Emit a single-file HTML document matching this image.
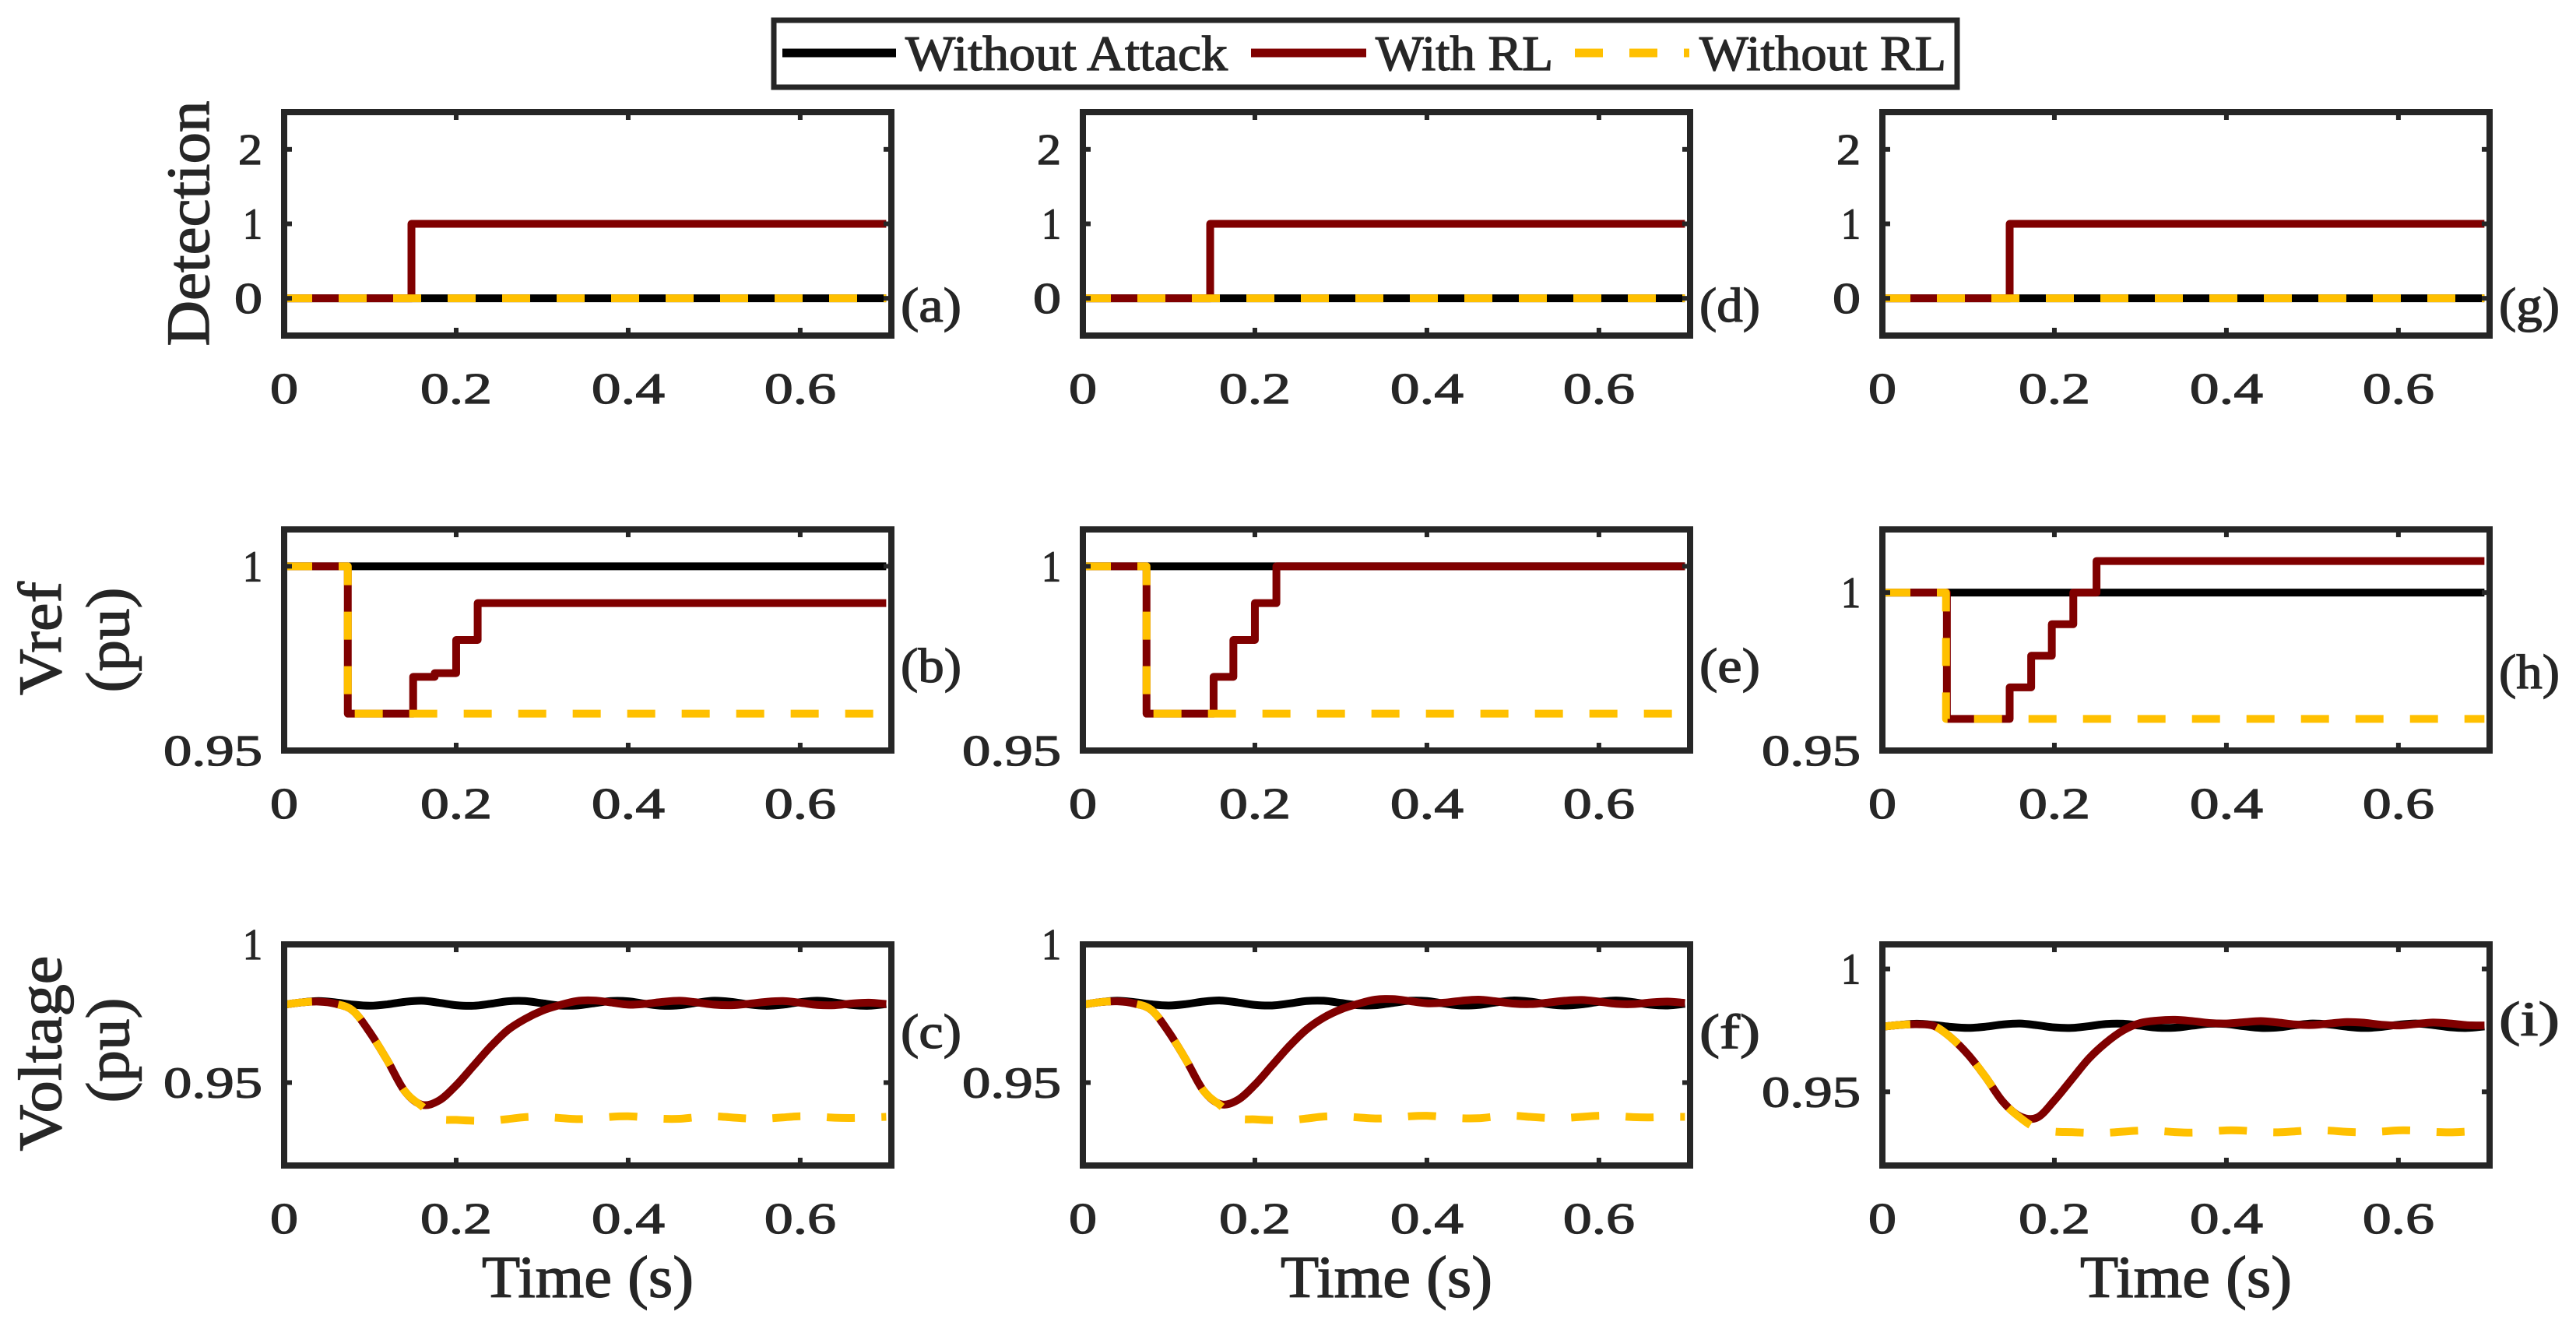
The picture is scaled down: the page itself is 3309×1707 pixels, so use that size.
<!DOCTYPE html>
<html><head><meta charset="utf-8"><style>
html,body{margin:0;padding:0;background:#fff}
svg{display:block}
text{font-family:"Liberation Serif",serif;fill:#262626}
.tk{stroke:#262626;stroke-width:1.3}
</style></head><body>
<svg id="fig" width="3309" height="1707" viewBox="0 0 3309 1707" xmlns="http://www.w3.org/2000/svg">
<g>
<rect x="994" y="26" width="1520" height="86" fill="#fff" stroke="#262626" stroke-width="7"/>
<line x1="1005" y1="68" x2="1151" y2="68" stroke="#000" stroke-width="11"/>
<text class="tk" x="1163" y="90" font-size="64" textLength="414" lengthAdjust="spacingAndGlyphs">Without Attack</text>
<line x1="1607" y1="68" x2="1755" y2="68" stroke="#800000" stroke-width="11"/>
<text class="tk" x="1767" y="90" font-size="64" textLength="228" lengthAdjust="spacingAndGlyphs">With RL</text>
<line x1="2023" y1="68" x2="2170" y2="68" stroke="#FFC000" stroke-width="11" stroke-dasharray="36 34"/>
<text class="tk" x="2183" y="90" font-size="64" textLength="317" lengthAdjust="spacingAndGlyphs">Without RL</text>
</g>
</svg>
<script>
// ---------- data ----------
const tV = [0,0.02,0.04,0.06,0.08,0.10,0.12,0.14,0.16,0.18,0.20,0.22,0.24,0.26,0.28,0.30,0.32,0.34,0.36,0.38,0.40,0.42,0.44,0.46,0.48,0.50,0.52,0.54,0.56,0.58,0.60,0.62,0.64,0.66,0.68,0.70];
const cBlack = [0.9782,0.9790,0.9795,0.9790,0.9782,0.9778,0.9783,0.9792,0.9796,0.9789,0.9780,0.9778,0.9785,0.9794,0.9795,0.9787,0.9779,0.9779,0.9787,0.9795,0.9794,0.9785,0.9778,0.9780,0.9789,0.9796,0.9792,0.9783,0.9778,0.9782,0.9791,0.9796,0.9790,0.9781,0.9778,0.9784];
const cRed = [0.9782,0.9790,0.9793,0.9785,0.9760,0.9680,0.9580,0.9470,0.9420,0.9435,0.9490,0.9560,0.9630,0.9690,0.9730,0.9760,0.9780,0.9795,0.9797,0.9790,0.9782,0.9785,0.9792,0.9796,0.9790,0.9782,0.9780,0.9785,0.9792,0.9795,0.9789,0.9781,0.9780,0.9786,0.9789,0.9784];
const cYellow = [0.9782,0.9790,0.9793,0.9785,0.9760,0.9680,0.9580,0.9470,0.9415,0.9370,0.9365,0.9362,0.9362,0.9368,0.9375,0.9376,0.9372,0.9368,0.9370,0.9376,0.9378,0.9374,0.9369,0.9369,0.9375,0.9378,0.9374,0.9370,0.9370,0.9374,0.9378,0.9377,0.9373,0.9372,0.9374,0.9376];
const fBlack = [0.9782,0.9791,0.9796,0.9791,0.9783,0.9779,0.9784,0.9793,0.9797,0.9790,0.9781,0.9779,0.9786,0.9795,0.9796,0.9788,0.9780,0.9780,0.9788,0.9796,0.9795,0.9786,0.9779,0.9781,0.9790,0.9797,0.9793,0.9784,0.9779,0.9783,0.9792,0.9797,0.9791,0.9782,0.9779,0.9785];
const fRed = [0.9782,0.9791,0.9794,0.9786,0.9762,0.9682,0.9582,0.9472,0.9422,0.9437,0.9492,0.9562,0.9632,0.9692,0.9735,0.9765,0.9785,0.9800,0.9802,0.9795,0.9787,0.9789,0.9796,0.9800,0.9794,0.9786,0.9784,0.9789,0.9796,0.9799,0.9793,0.9785,0.9784,0.9790,0.9793,0.9788];
const fYellow = [0.9782,0.9791,0.9794,0.9786,0.9762,0.9682,0.9582,0.9472,0.9417,0.9372,0.9367,0.9364,0.9364,0.9370,0.9377,0.9378,0.9374,0.9370,0.9372,0.9378,0.9380,0.9376,0.9371,0.9371,0.9377,0.9380,0.9376,0.9372,0.9372,0.9376,0.9380,0.9379,0.9375,0.9374,0.9376,0.9376];
const iBlack = [0.9765,0.9772,0.9777,0.9772,0.9764,0.9760,0.9765,0.9774,0.9778,0.9771,0.9762,0.9760,0.9767,0.9776,0.9777,0.9769,0.9761,0.9761,0.9769,0.9777,0.9776,0.9767,0.9760,0.9762,0.9771,0.9778,0.9774,0.9765,0.9760,0.9764,0.9773,0.9778,0.9772,0.9763,0.9760,0.9766];
const iRed = [0.9765,0.9772,0.9775,0.9768,0.9720,0.9650,0.9560,0.9460,0.9400,0.9395,0.9465,0.9550,0.9635,0.9700,0.9750,0.9780,0.9790,0.9793,0.9788,0.9780,0.9778,0.9783,0.9788,0.9782,0.9774,0.9772,0.9778,0.9784,0.9781,0.9773,0.9770,0.9776,0.9782,0.9778,0.9771,0.9770];
const iYellow = [0.9765,0.9772,0.9775,0.9768,0.9720,0.9650,0.9560,0.9460,0.9395,0.9350,0.9338,0.9336,0.9333,0.9333,0.9338,0.9342,0.9341,0.9336,0.9334,0.9338,0.9343,0.9342,0.9337,0.9335,0.9339,0.9344,0.9342,0.9337,0.9335,0.9338,0.9343,0.9342,0.9337,0.9335,0.9338,0.9341];

const detT = [0,0.148,0.70];
const detRed = [0,1,1];
const detZero = [0,0,0];

const bT = [0,0.074,0.150,0.175,0.200,0.225,0.70];
const bRed = [1,0.96,0.97,0.971,0.98,0.99,0.99];
const eT = [0,0.074,0.152,0.175,0.200,0.225,0.70];
const eRed = [1,0.96,0.97,0.98,0.99,1.0,1.0];
const hT = [0,0.075,0.148,0.173,0.197,0.222,0.249,0.70];
const hRed = [1,0.96,0.97,0.98,0.99,1.0,1.01,1.01];
const vrefYT = [0,0.074,0.70];
const vrefYellow = [1,0.96,0.96];
const vrefBT = [0,0.70];
const vrefBlack = [1,1];

const xTicks = [0,0.2,0.4,0.6];
const xTickLabels = ["0","0.2","0.4","0.6"];
const detTicks = [0,1,2];
const detTickLabels = ["0","1","2"];
const puTicks = [0.95,1];
const puTickLabels = ["0.95","1"];

// ---------- layout ----------
const NS = "http://www.w3.org/2000/svg";
const svg = document.getElementById('fig');
const colLeft = [365,1391,2418];
const W = 780;
const rows = [{top:144,bot:431},{top:680,bot:964},{top:1213,bot:1497}];
const XMAX = 0.706;
const INK = "#262626";
const labW = {"0":36,"0.2":92,"0.4":94,"0.6":92,"1":25,"2":31,"0.95":127};

function mk(tag, attrs, parent){
  const e = document.createElementNS(NS, tag);
  for (const k in attrs) e.setAttribute(k, attrs[k]);
  (parent||svg).appendChild(e);
  return e;
}
function axes(col,row,ymin,ymax,yt,ytl,letter,letterY,name){
  const L = colLeft[col], R = L+W, T = rows[row].top, B = rows[row].bot;
  const g = mk('g',{});
  
  
  const sx = t => L + t/XMAX*W;
  const sy = v => B - (v-ymin)/(ymax-ymin)*(B-T);
  const clip = mk('clipPath',{id:'clip'+col+row}, g);
  mk('rect',{x:L,y:T,width:W,height:B-T}, clip);
  const plot = mk('g',{'clip-path':'url(#clip'+col+row+')'}, g);
  
  
  const fr = mk('rect',{x:L,y:T,width:W,height:B-T,fill:'none',stroke:INK,'stroke-width':8}, g);
  
  
  xTicks.forEach((t,i)=>{
    const x = sx(t);
    if (t>0){
      mk('line',{x1:x,y1:B,x2:x,y2:B-10,stroke:INK,'stroke-width':6}, g);
      mk('line',{x1:x,y1:T,x2:x,y2:T+10,stroke:INK,'stroke-width':6}, g);
    }
    const tx = mk('text',{class:'tk',x:x,y:B+87,'font-size':56,'text-anchor':'middle',textLength:labW[xTickLabels[i]],lengthAdjust:'spacingAndGlyphs'}, g);
    tx.textContent = xTickLabels[i];
    
    
  });
  yt.forEach((v,i)=>{
    const y = sy(v);
    if (y>T+5 && y<B-5){
      mk('line',{x1:L,y1:y,x2:L+10,y2:y,stroke:INK,'stroke-width':6}, g);
      mk('line',{x1:R,y1:y,x2:R-10,y2:y,stroke:INK,'stroke-width':6}, g);
    }
    const tx = mk('text',{class:'tk',x:L-28,y:y+19,'font-size':56,'text-anchor':'end',textLength:labW[ytl[i]],lengthAdjust:'spacingAndGlyphs'}, g);
    tx.textContent = ytl[i];
    
    
  });
  const lt = mk('text',{class:'tk',x:R+12,y:letterY,'font-size':62,textLength:78,lengthAdjust:'spacingAndGlyphs'}, g);
  lt.textContent = '('+letter+')';
  
  
  return {plot,sx,sy};
}
function stepPath(a,T,V){
  let d = 'M'+a.sx(T[0])+','+a.sy(V[0]);
  for (let i=1;i<T.length;i++){
    d += ' L'+a.sx(T[i])+','+a.sy(V[i-1]);
    d += ' L'+a.sx(T[i])+','+a.sy(V[i]);
  }
  return d;
}
function smoothPath(a,T,V){
  const p = T.map((t,i)=>[a.sx(t),a.sy(V[i])]);
  let d = 'M'+p[0][0]+','+p[0][1];
  for (let i=0;i<p.length-1;i++){
    const p0=p[Math.max(0,i-1)], p1=p[i], p2=p[i+1], p3=p[Math.min(p.length-1,i+2)];
    const c1=[p1[0]+(p2[0]-p0[0])/6, p1[1]+(p2[1]-p0[1])/6];
    const c2=[p2[0]-(p3[0]-p1[0])/6, p2[1]-(p3[1]-p1[1])/6];
    d += ' C'+c1[0]+','+c1[1]+' '+c2[0]+','+c2[1]+' '+p2[0]+','+p2[1];
  }
  return d;
}
function series(a,d,color,dashed,name){
  const attrs = {d:d,fill:'none',stroke:color,'stroke-width':10,'stroke-linejoin':'round'};
  if (dashed) attrs['stroke-dasharray']='36 34';
  const p = mk('path',attrs,a.plot);
  
  
}

const letters = [['a','b','c'],['d','e','f'],['g','h','i']];
for (let c=0;c<3;c++){
  const a = axes(c,0,-0.5,2.5,detTicks,detTickLabels,letters[c][0],413,'detection-plot-'+letters[c][0]);
  series(a,stepPath(a,detT,detZero),'#000',false,'without-attack-line');
  series(a,stepPath(a,detT,detRed),'#800000',false,'with-rl-line');
  series(a,stepPath(a,detT,detZero),'#FFC000',true,'without-rl-line');
}
const vrefSpecs = [[bT,bRed,1.01],[eT,eRed,1.01],[hT,hRed,1.02]];
for (let c=0;c<3;c++){
  const s = vrefSpecs[c];
  const a = axes(c,1,0.95,s[2],puTicks,puTickLabels,letters[c][1],c==2?884:876,'vref-plot-'+letters[c][1]);
  series(a,stepPath(a,vrefBT,vrefBlack),'#000',false,'without-attack-line');
  series(a,stepPath(a,s[0],s[1]),'#800000',false,'with-rl-line');
  series(a,stepPath(a,vrefYT,vrefYellow),'#FFC000',true,'without-rl-line');
}
const voltSpecs = [[cBlack,cRed,cYellow,1.0,1346],[fBlack,fRed,fYellow,1.0,1346],[iBlack,iRed,iYellow,1.01,1330]];
for (let c=0;c<3;c++){
  const s = voltSpecs[c];
  const a = axes(c,2,0.92,s[3],puTicks,puTickLabels,letters[c][2],s[4],'voltage-plot-'+letters[c][2]);
  series(a,smoothPath(a,tV,s[0]),'#000',false,'without-attack-line');
  series(a,smoothPath(a,tV,s[1]),'#800000',false,'with-rl-line');
  series(a,smoothPath(a,tV,s[2]),'#FFC000',true,'without-rl-line');
  const xt = mk('text',{class:'tk',x:colLeft[c]+W/2,y:1666,'font-size':76,'text-anchor':'middle',textLength:272,lengthAdjust:'spacingAndGlyphs'});
  xt.textContent = 'Time (s)';
  
  
}
function ytitle(txt,cx,cy,len,name){
  const t = mk('text',{class:'tk',x:0,y:0,'font-size':78,'text-anchor':'middle',transform:'translate('+cx+','+cy+') rotate(-90)',textLength:len,lengthAdjust:'spacingAndGlyphs'});
  t.textContent = txt;
  
  
}
ytitle('Detection',268,287,315,'y-axis-title-detection');
ytitle('Vref',78,820,146,'y-axis-title-vref');
ytitle('(pu)',165,822,135,'y-axis-title-vref-unit');
ytitle('Voltage',78,1353,251,'y-axis-title-voltage');
ytitle('(pu)',165,1349,135,'y-axis-title-voltage-unit');
</script>
</body></html>
